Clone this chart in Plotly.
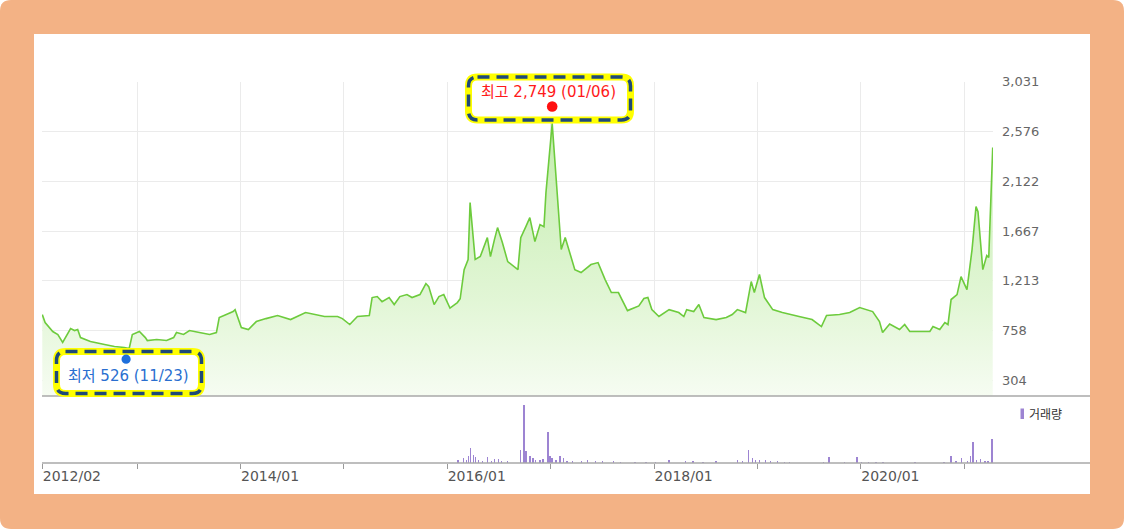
import plotly.graph_objects as go

W, H = 1124, 529

# ---------------- data ----------------
price_dates = [
    "2012-02-01", "2012-02-11", "2012-03-09", "2012-03-27", "2012-04-13", "2012-04-24", "2012-05-11",
    "2012-05-25", "2012-06-05", "2012-06-15", "2012-07-20", "2012-09-08", "2012-10-13", "2012-11-17",
    "2012-12-04", "2012-12-15", "2013-01-09", "2013-01-30", "2013-02-06", "2013-03-11", "2013-04-15",
    "2013-05-10", "2013-05-20", "2013-06-14", "2013-07-05", "2013-08-09", "2013-09-14", "2013-10-08",
    "2013-10-18", "2013-11-12", "2013-12-06", "2013-12-13", "2013-12-24", "2014-01-04", "2014-01-29",
    "2014-02-26", "2014-04-01", "2014-05-12", "2014-06-27", "2014-08-19", "2014-10-25", "2014-12-10",
    "2014-12-27", "2015-01-22", "2015-02-18", "2015-04-01", "2015-04-11", "2015-04-29", "2015-05-16",
    "2015-06-10", "2015-06-28", "2015-07-18", "2015-08-12", "2015-08-30", "2015-09-27", "2015-10-18",
    "2015-10-28", "2015-11-16", "2015-12-03", "2015-12-20", "2016-01-11", "2016-02-06", "2016-02-16",
    "2016-03-01", "2016-03-15", "2016-03-22", "2016-04-09", "2016-04-27", "2016-05-22", "2016-06-02",
    "2016-06-16", "2016-06-27", "2016-07-14", "2016-08-02", "2016-09-07", "2016-09-17", "2016-10-05",
    "2016-10-19", "2016-11-06", "2016-11-24", "2016-12-08", "2016-12-15", "2017-01-06", "2017-01-24",
    "2017-02-07", "2017-02-21", "2017-03-10", "2017-03-27", "2017-04-18", "2017-05-23", "2017-06-17",
    "2017-07-12", "2017-08-03", "2017-08-28", "2017-09-29", "2017-11-08", "2017-11-26", "2017-12-10",
    "2017-12-24", "2018-01-18", "2018-02-23", "2018-03-29", "2018-04-16", "2018-04-26", "2018-05-21",
    "2018-06-08", "2018-06-26", "2018-08-08", "2018-09-13", "2018-10-04", "2018-10-22", "2018-11-20",
    "2018-12-10", "2018-12-21", "2019-01-08", "2019-01-26", "2019-02-24", "2019-03-30", "2019-05-28",
    "2019-07-13", "2019-08-15", "2019-09-02", "2019-10-18", "2019-11-23", "2019-12-28", "2020-02-12",
    "2020-03-07", "2020-03-18", "2020-04-12", "2020-05-17", "2020-06-04", "2020-06-22", "2020-09-01",
    "2020-09-12", "2020-10-06", "2020-10-24", "2020-11-04", "2020-11-15", "2020-12-06", "2020-12-20",
    "2021-01-10", "2021-01-28", "2021-02-11", "2021-02-18", "2021-03-07", "2021-03-21", "2021-03-28",
    "2021-04-11",
]
price_values = [
    906, 833, 751, 724, 651, 705, 778,
    760, 769, 696, 660, 632, 614, 605,
    596, 724, 751, 696, 669, 678, 669,
    696, 742, 724, 760, 742, 724, 742,
    879, 906, 933, 951, 860, 787, 769,
    842, 869, 897, 860, 924, 888, 888,
    869, 815, 888, 897, 1061, 1070, 1024,
    1061, 997, 1070, 1088, 1061, 1088, 1189,
    1161, 997, 1070, 1088, 965, 1015, 1050,
    1316, 1408, 1927, 1408, 1435, 1608, 1435,
    1590, 1699, 1563, 1389, 1316, 1608, 1708,
    1790, 1572, 1727, 1708, 2018, 2650, 1982,
    1499, 1608, 1471, 1316, 1289, 1362, 1380,
    1225, 1107, 1107, 942, 985, 1052, 1061,
    951, 888, 951, 924, 888, 951, 933,
    997, 879, 860, 879, 906, 951, 924,
    1207, 1107, 1271, 1061, 951, 924, 888,
    860, 796, 897, 906, 924, 970, 933,
    842, 742, 820, 769, 815, 751, 751,
    796, 769, 833, 815, 1043, 1088, 1252,
    1134, 1499, 1891, 1845, 1316, 1444, 1426,
    2430,
]

vol_dates = [
    "2016-02-09", "2016-02-27", "2016-03-09", "2016-03-16", "2016-03-23", "2016-04-03", "2016-04-10",
    "2016-04-20", "2016-05-05", "2016-05-22", "2016-06-06", "2016-06-16", "2016-07-01", "2016-07-11",
    "2016-08-02", "2016-09-17", "2016-09-28", "2016-10-05", "2016-10-19", "2016-10-30", "2016-11-09",
    "2016-11-24", "2016-12-04", "2016-12-22", "2016-12-29", "2017-01-06", "2017-01-20", "2017-02-03",
    "2017-02-14", "2017-02-28", "2017-03-18", "2017-04-19", "2017-05-10", "2017-06-08", "2017-07-03",
    "2017-08-11", "2017-09-05", "2017-10-25", "2017-12-03", "2018-01-05", "2018-02-23", "2018-04-21",
    "2018-05-19", "2018-06-23", "2018-08-08", "2018-10-22", "2018-11-09", "2018-11-30", "2018-12-14",
    "2018-12-25", "2019-01-08", "2019-01-29", "2019-02-16", "2019-03-13", "2019-04-06", "2019-04-24",
    "2019-08-23", "2019-09-10", "2019-11-05", "2019-12-18", "2020-01-03", "2020-01-29", "2020-02-23",
    "2020-03-19", "2020-07-10", "2020-10-21", "2020-11-15", "2020-12-03", "2020-12-21", "2021-01-11",
    "2021-01-22", "2021-02-01", "2021-02-12", "2021-02-26", "2021-03-15", "2021-03-26", "2021-04-09",
]
vol_values = [
    2.9, 4.6, 2.9, 7.5, 14.6, 8.2, 6.4,
    2.9, 2.1, 6.4, 2.1, 3.9, 3.6, 2.1,
    1.8, 12.9, 58.0, 11.8, 7.5, 4.6, 2.9,
    2.9, 3.6, 30.7, 7.5, 5.4, 2.9, 7.5,
    4.6, 2.1, 1.8, 1.8, 2.9, 1.8, 1.8,
    1.8, 1.4, 1.4, 1.4, 1.4, 2.9, 2.5,
    1.8, 1.4, 1.8, 2.9, 2.5, 12.9, 4.6,
    2.9, 2.9, 2.9, 2.5, 1.8, 1.4, 1.4,
    1.4, 5.7, 1.4, 5.7, 1.4, 1.4, 1.4,
    1.4, 1.4, 1.4, 7.5, 1.8, 4.6, 1.8,
    7.5, 20.7, 2.9, 3.6, 1.8, 1.8, 24.3,
]

y_tick_values = [304, 758, 1213, 1667, 2122, 2576, 3031]
y_tick_labels = ["304", "758", "1,213", "1,667", "2,122", "2,576", "3,031"]

x_tick_dates = ["2012-02-01", "2013-01-01", "2014-01-01", "2015-01-01", "2016-01-01",
                "2017-01-01", "2018-01-01", "2019-01-01", "2020-01-01", "2021-01-01"]
x_tick_labels = ["2012/02", "", "2014/01", "", "2016/01", "", "2018/01", "", "2020/01", ""]

high_date, high_value, high_label = "2017-01-06", 2749, "최고 2,749 (01/06)"
low_date, low_value, low_label = "2012-11-23", 526, "최저 526 (11/23)"
volume_label = "거래량"

# ---------------- helpers (pixel -> paper) ----------------
def px(x):
    return x / W

def py(y):
    return 1 - y / H

def rrect_path(x0, y0, x1, y1, r):
    pts = [
        ("M", [(x0 + r, y0)]), ("L", [(x1 - r, y0)]), ("Q", [(x1, y0), (x1, y0 + r)]),
        ("L", [(x1, y1 - r)]), ("Q", [(x1, y1), (x1 - r, y1)]), ("L", [(x0 + r, y1)]),
        ("Q", [(x0, y1), (x0, y1 - r)]), ("L", [(x0, y0 + r)]), ("Q", [(x0, y0), (x0 + r, y0)]),
    ]
    s = ""
    for cmd, pl in pts:
        s += cmd + " " + " ".join(f"{px(a):.5f},{py(b):.5f}" for a, b in pl) + " "
    return s + "Z"

ORANGE = "#F3B285"
GRID = "#ebebeb"
LINE_GREEN = "#6dcb3d"
PURPLE = "#9d84d2"
NUM_FONT = "DejaVu Sans, Noto Sans CJK KR, sans-serif"
KR_FONT = "DejaVu Sans, Noto Sans CJK KR, sans-serif"

fig = go.Figure()

fig.add_trace(go.Scatter(
    x=price_dates, y=price_values, xaxis="x2", yaxis="y", mode="lines",
    line=dict(color=LINE_GREEN, width=1.6),
    fill="tozeroy",
    fillgradient=dict(type="vertical", start=163, stop=3031,
                      colorscale=[[0, "rgb(246,252,242)"], [0.3, "rgb(226,246,214)"], [1, "rgb(188,234,164)"]]),
    hoverinfo="skip", showlegend=False,
))

fig.add_trace(go.Bar(
    x=vol_dates, y=vol_values, xaxis="x", yaxis="y2",
    marker=dict(color=PURPLE, line=dict(width=0)),
    width=5 * 86400000, hoverinfo="skip", showlegend=False,
))

x_range = ["2012-01-31", "2021-04-12"]
x_dom = [px(42), px(993)]

fig.update_layout(
    width=W, height=H, autosize=False,
    margin=dict(l=0, r=0, t=0, b=0, pad=0, autoexpand=False),
    paper_bgcolor="white",
    plot_bgcolor="rgba(0,0,0,0)",
    hovermode=False,
    showlegend=False,
    bargap=0,
    xaxis=dict(
        domain=x_dom, anchor="y2", type="date", range=x_range,
        tickmode="array", tickvals=x_tick_dates, ticktext=x_tick_labels,
        ticks="outside", ticklen=5, tickcolor="#9a9a9a", tickwidth=1,
        ticklabelposition="outside right", automargin=False,
        tickfont=dict(family=NUM_FONT, size=14, color="#555555"),
        showgrid=False, showline=False, zeroline=False,
    ),
    xaxis2=dict(
        domain=x_dom, anchor="y", type="date", matches="x", range=x_range,
        tickmode="array", tickvals=x_tick_dates, showticklabels=False, ticks="",
        showgrid=True, gridcolor=GRID, gridwidth=1, showline=False, zeroline=False,
    ),
    yaxis=dict(
        domain=[py(396), py(81.5)], anchor="x2", side="right", range=[163, 3032],
        tickmode="array", tickvals=y_tick_values, ticktext=y_tick_labels,
        ticks="", ticklabelstandoff=8, automargin=False,
        tickfont=dict(family=NUM_FONT, size=13, color="#666666"),
        showgrid=True, gridcolor=GRID, gridwidth=1, showline=False, zeroline=False,
    ),
    yaxis2=dict(
        domain=[py(463), py(396)], anchor="x", range=[0, 67],
        showticklabels=False, ticks="", showgrid=False, showline=False, zeroline=False,
    ),
)

shapes = []
# outer orange rounded frame and inner white panel
shapes.append(dict(type="path", xref="paper", yref="paper", path=rrect_path(0, 0, W, H, 11),
                   fillcolor=ORANGE, line=dict(width=0), layer="below"))
shapes.append(dict(type="rect", xref="paper", yref="paper", x0=px(34), x1=px(1090), y0=py(494), y1=py(34),
                   fillcolor="white", line=dict(width=0), layer="below"))
# separator lines
for yy in (396, 463):
    shapes.append(dict(type="line", xref="paper", yref="paper", x0=px(42), x1=px(1090), y0=py(yy), y1=py(yy),
                       line=dict(color="#a8a8a8", width=1.6), layer="above"))
# annotation boxes (yellow under-stroke + navy dashed stroke)
for (bx0, by0, bx1, by1) in [(468.5, 77, 630.5, 120), (56.5, 351.5, 201.5, 393.5)]:
    path = rrect_path(bx0, by0, bx1, by1, 9)
    shapes.append(dict(type="path", xref="paper", yref="paper", path=path,
                       fillcolor="white", line=dict(color="#ffff00", width=7), layer="above"))
    shapes.append(dict(type="path", xref="paper", yref="paper", path=path,
                       line=dict(color="#1f4a78", width=3.5, dash="12px,7px"), layer="above"))
# high / low dots
shapes.append(dict(type="circle", xref="x2", yref="y", xsizemode="pixel", ysizemode="pixel",
                   xanchor=high_date, yanchor=high_value, x0=-5.3, x1=5.3, y0=0.7, y1=11.3,
                   fillcolor="#ff1010", line=dict(width=0), layer="above"))
shapes.append(dict(type="circle", xref="x2", yref="y", xsizemode="pixel", ysizemode="pixel",
                   xanchor=low_date, yanchor=low_value, x0=-4.6, x1=4.6, y0=-7.6, y1=1.6,
                   fillcolor="#1e6fdc", line=dict(width=0), layer="above"))
# volume legend marker
shapes.append(dict(type="rect", xref="paper", yref="paper", x0=px(1020.5), x1=px(1024), y0=py(419), y1=py(408.5),
                   fillcolor=PURPLE, line=dict(width=0), layer="above"))
fig.update_layout(shapes=shapes)

fig.add_annotation(x=high_date, y=high_value, xref="x2", yref="y", text=high_label, showarrow=False,
                   yshift=21, xshift=-4, font=dict(family=KR_FONT, size=15, color="#ff1a1a"))
fig.add_annotation(x=low_date, y=low_value, xref="x2", yref="y", text=low_label, showarrow=False,
                   yshift=-20, xshift=2, font=dict(family=KR_FONT, size=15, color="#2a6fd0"))
fig.add_annotation(x=px(1027), y=py(413.5), xref="paper", yref="paper", text=volume_label, showarrow=False,
                   xanchor="left", yanchor="middle", font=dict(family="Noto Sans CJK KR, sans-serif", size=12, color="#333333"))

fig.write_html("out.html", config={"displayModeBar": False, "staticPlot": True},
               post_script="document.documentElement.style.margin='0';document.body.style.margin='0';"
                           "document.body.style.padding='0';document.documentElement.style.overflow='hidden';"
                           "document.body.style.overflow='hidden';")
